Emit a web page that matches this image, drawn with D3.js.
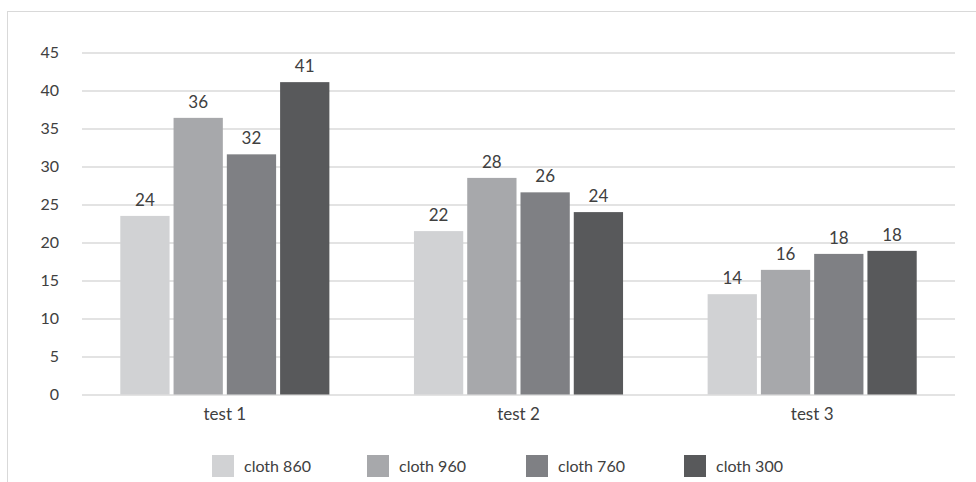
<!DOCTYPE html>
<html>
<head>
<meta charset="utf-8">
<script src="https://cdn.jsdelivr.net/npm/d3@7"></script>
<style>
  html, body { margin: 0; padding: 0; background: #fff; }
  svg { display: block; }
  text { font-family: Lato, "Open Sans", sans-serif; fill: #404040; }
</style>
</head>
<body>
<svg id="chart" width="976" height="482"></svg>
<script>
const categories = ["test 1", "test 2", "test 3"];
const seriesNames = ["cloth 860", "cloth 960", "cloth 760", "cloth 300"];
const seriesColors = ["#d1d2d4", "#a7a8ab", "#7f8084", "#58595b"];
// bar heights per series, indexed by category
const cloth860 = [23.5, 21.5, 13.2];
const cloth960 = [36.4, 28.5, 16.4];
const cloth760 = [31.6, 26.6, 18.5];
const cloth300 = [41.1, 24.0, 18.9];
// data labels as shown on the chart
const labels860 = ["24", "22", "14"];
const labels960 = ["36", "28", "16"];
const labels760 = ["32", "26", "18"];
const labels300 = ["41", "24", "18"];
const yTicks = [0, 5, 10, 15, 20, 25, 30, 35, 40, 45];

const seriesValues = [cloth860, cloth960, cloth760, cloth300];
const seriesLabels = [labels860, labels960, labels760, labels300];

const svg = d3.select("#chart");

// outer border
svg.append("rect")
  .attr("x", 7.5).attr("y", 11.5)
  .attr("width", 1000).attr("height", 1000)
  .attr("fill", "none").attr("stroke", "#d9d9d9").attr("stroke-width", 1);

const y = d3.scaleLinear().domain([0, 45]).range([394.5, 52.5]);
const x = d3.scaleBand().domain(categories).range([78, 959])
  .paddingInner(0.288).paddingOuter(0.144);
const xInner = d3.scaleBand().domain(seriesNames).range([0, x.bandwidth()])
  .paddingInner(0.075);

const gridLeft = 82, gridRight = 955;

// gridlines + y labels via axis
const yAxis = d3.axisLeft(y).tickValues(yTicks).tickSize(-(gridRight - gridLeft)).tickPadding(23);
const gy = svg.append("g").attr("transform", `translate(${gridLeft},0)`).call(yAxis);
gy.select(".domain").remove();
gy.selectAll(".tick line").attr("stroke", "#c8c8c8").attr("stroke-width", 1.2);
gy.selectAll(".tick text").attr("font-size", 16).attr("fill", "#404040")
  .attr("font-family", "Lato, sans-serif");

// bars
const data = [];
categories.forEach((c, ci) => {
  seriesNames.forEach((s, si) => {
    data.push({cat: c, series: s, value: seriesValues[si][ci], label: seriesLabels[si][ci], color: seriesColors[si]});
  });
});

svg.append("g").selectAll("rect").data(data).join("rect")
  .attr("x", d => x(d.cat) + xInner(d.series))
  .attr("y", d => y(d.value))
  .attr("width", xInner.bandwidth())
  .attr("height", d => y(0) - y(d.value))
  .attr("fill", d => d.color);

svg.append("g").selectAll("text").data(data).join("text")
  .attr("x", d => x(d.cat) + xInner(d.series) + xInner.bandwidth() / 2)
  .attr("y", d => y(d.value) - 10)
  .attr("text-anchor", "middle")
  .attr("font-size", 17)
  .text(d => d.label);

// x axis labels
const xAxis = d3.axisBottom(x).tickSize(0).tickPadding(0);
const gx = svg.append("g").attr("transform", `translate(0,${y(0)})`).call(xAxis);
gx.select(".domain").remove();
gx.selectAll(".tick text").attr("font-size", 17).attr("fill", "#404040")
  .attr("font-family", "Lato, sans-serif").attr("dy", null).attr("y", 25);

// legend
const legendX = [212, 367, 526, 684];
const lg = svg.append("g").selectAll("g").data(seriesNames).join("g")
  .attr("transform", (d, i) => `translate(${legendX[i]},455)`);
lg.append("rect").attr("width", 22).attr("height", 22)
  .attr("fill", (d, i) => seriesColors[i]);
lg.append("text").attr("x", 32).attr("y", 16.5).attr("font-size", 16).text(d => d);
</script>
</body>
</html>
